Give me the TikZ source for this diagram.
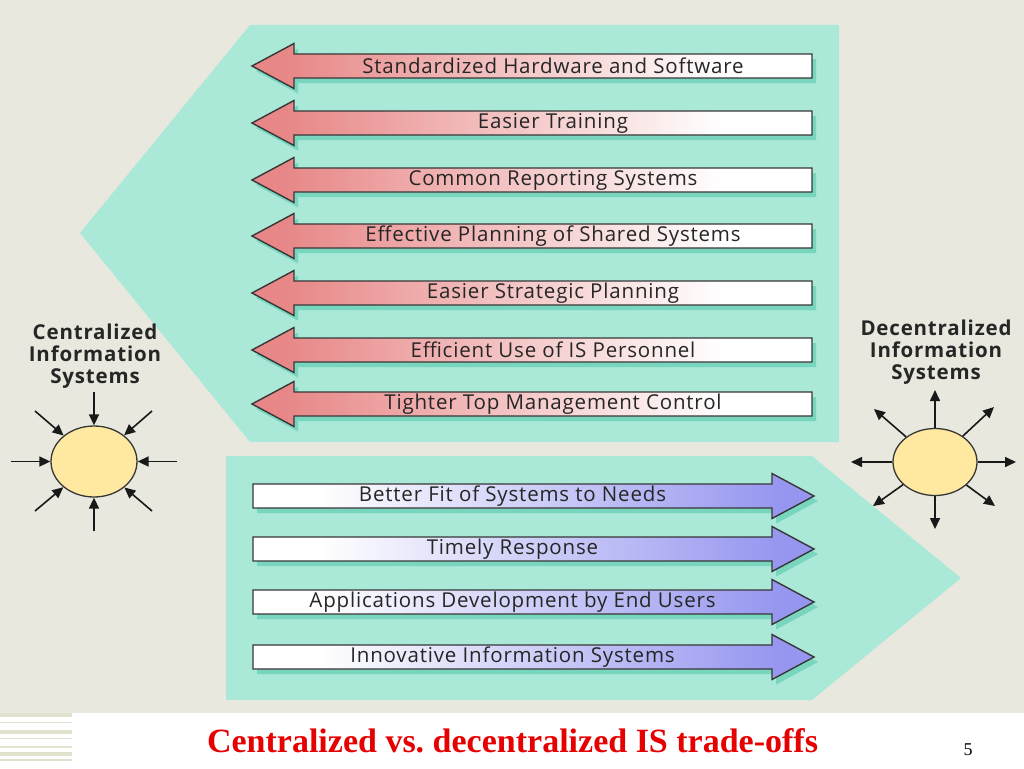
\documentclass[tikz,border=0pt]{standalone}
\usepackage{fontspec}
\setmainfont{Liberation Serif}
\newfontfamily\lab{Open Sans}[LetterSpace=4]
\usetikzlibrary{shapes.geometric,arrows.meta}
\definecolor{bg}{RGB}{233,232,223}
\definecolor{tealbox}{RGB}{170,232,216}
\definecolor{shadowc}{RGB}{105,208,182}
\definecolor{redA}{RGB}{232,135,135}
\definecolor{blueA}{RGB}{150,150,240}
\definecolor{sunc}{RGB}{255,232,160}
\definecolor{edge}{RGB}{55,55,55}
\definecolor{stripe}{RGB}{226,226,206}
\definecolor{titlered}{RGB}{230,0,0}
\pgfdeclarehorizontalshading{redfade}{100bp}{color(0bp)=(redA); color(28bp)=(redA); color(67bp)=(white); color(100bp)=(white)}
\pgfdeclarehorizontalshading{bluefade}{100bp}{color(0bp)=(white); color(31bp)=(white); color(72bp)=(blueA); color(100bp)=(blueA)}
\tikzset{
  arrowtext/.style={font=\lab\fontsize{20.5}{22}\selectfont, text=black!85, inner sep=0pt},
  sidelabel/.style={font=\lab\bfseries\fontsize{20.5}{21.7}\selectfont, align=center, text=black!85, inner sep=0pt},
  sun/.style={ellipse, draw=edge, line width=1.3pt, fill=sunc, inner sep=0pt},
  ray/.style={draw=black!90, line width=1.6pt, -{Triangle[length=11pt,width=10pt]}},
  bigarrow/.style={draw=edge, line width=1.4pt, line join=miter},
  shadowarrow/.style={fill=shadowc, opacity=0.75}
}
\newcommand\redarr[3]{%
  \fill[shadowarrow] (256,#1+5) -- (298,#1-17.5) -- (298,#1-7) -- (816,#1-7) -- (816,#1+17) -- (298,#1+17) -- (298,#1+27.5) -- cycle;
  \shadedraw[bigarrow, shading=redfade] (252,#1) -- (294,#1-22.5) -- (294,#1-12) -- (812,#1-12) -- (812,#1+12) -- (294,#1+12) -- (294,#1+22.5) -- cycle;
  \node[arrowtext] (#2) at (553,#1) {#3};
}
\newcommand\bluearr[3]{%
  \fill[shadowarrow] (257,#1-7) -- (776,#1-7) -- (776,#1-17.5) -- (818,#1+5) -- (776,#1+27.5) -- (776,#1+17) -- (257,#1+17) -- cycle;
  \shadedraw[bigarrow, shading=bluefade] (253,#1-12) -- (772,#1-12) -- (772,#1-22.5) -- (814,#1) -- (772,#1+22.5) -- (772,#1+12) -- (253,#1+12) -- cycle;
  \node[arrowtext] (#2) at (512.5,#1) {#3};
}
\begin{document}
\begin{tikzpicture}[x=1pt,y=-1pt]
\useasboundingbox (0,0) rectangle (1024,768);
% background
\fill[bg] (0,0) rectangle (1024,713);
\fill[white] (0,713) rectangle (1024,768);
\foreach \a/\b in {713/716.5, 721.5/723, 730/733.5, 737.5/739, 746/747.5, 752/755.5, 759/761}
  \fill[stripe] (0,\a) rectangle (72,\b);
% teal panels
\fill[tealbox] (250,25) -- (839,25) -- (839,442) -- (250,442) -- (80,233) -- cycle;
\fill[tealbox] (226,456) -- (812,456) -- (961,578) -- (812,700) -- (226,700) -- cycle;
% red arrows
\redarr{66}{r1}{Standardized Hardware and Software}
\redarr{123}{r2}{Easier Training}
\redarr{180}{r3}{Common Reporting Systems}
\redarr{236}{r4}{Effective Planning of Shared Systems}
\redarr{293}{r5}{Easier Strategic Planning}
\redarr{350}{r6}{Efficient Use of IS Personnel}
\redarr{404}{r7}{Tighter Top Management Control}
% blue arrows
\bluearr{496}{b1}{Better Fit of Systems to Needs}
\bluearr{549}{b2}{Timely Response}
\bluearr{602}{b3}{Applications Development by End Users}
\bluearr{657}{b4}{Innovative Information Systems}
% centralized
\node[sidelabel] (cl) at (95,356) {Centralized\\Information\\Systems};
\node[sun, minimum width=86pt, minimum height=71pt] (cs) at (94,461.5) {};
\coordinate (c1) at (94,392);
\coordinate (c2) at (152,411);
\coordinate (c3) at (177,461.5);
\coordinate (c4) at (152,511);
\coordinate (c5) at (94,531);
\coordinate (c6) at (35,511);
\coordinate (c7) at (11,461.5);
\coordinate (c8) at (35,411);
\foreach \c in {c1,c2,c3,c4,c5,c6,c7,c8}
  \draw[ray] (\c) -- (cs);
% decentralized
\node[sidelabel] (dl) at (936,352) {Decentralized\\Information\\Systems};
\node[sun, minimum width=84pt, minimum height=67pt] (ds) at (935,462) {};
\coordinate (d1) at (935,390);
\coordinate (d2) at (994,407);
\coordinate (d3) at (1016,462);
\coordinate (d4) at (995,506);
\coordinate (d5) at (935,529);
\coordinate (d6) at (873,506);
\coordinate (d7) at (851,462);
\coordinate (d8) at (874,409);
\foreach \d in {d1,d2,d3,d4,d5,d6,d7,d8}
  \draw[ray] (ds) -- (\d);
% title
\node[anchor=base, inner sep=0pt, text=titlered, font=\bfseries\fontsize{34}{36}\selectfont] (title) at (512.5,752) {Centralized vs.\ decentralized IS trade-offs};
\node[anchor=base, inner sep=0pt, font=\fontsize{18}{20}\selectfont] (pg) at (968,755) {5};
\end{tikzpicture}
\end{document}
